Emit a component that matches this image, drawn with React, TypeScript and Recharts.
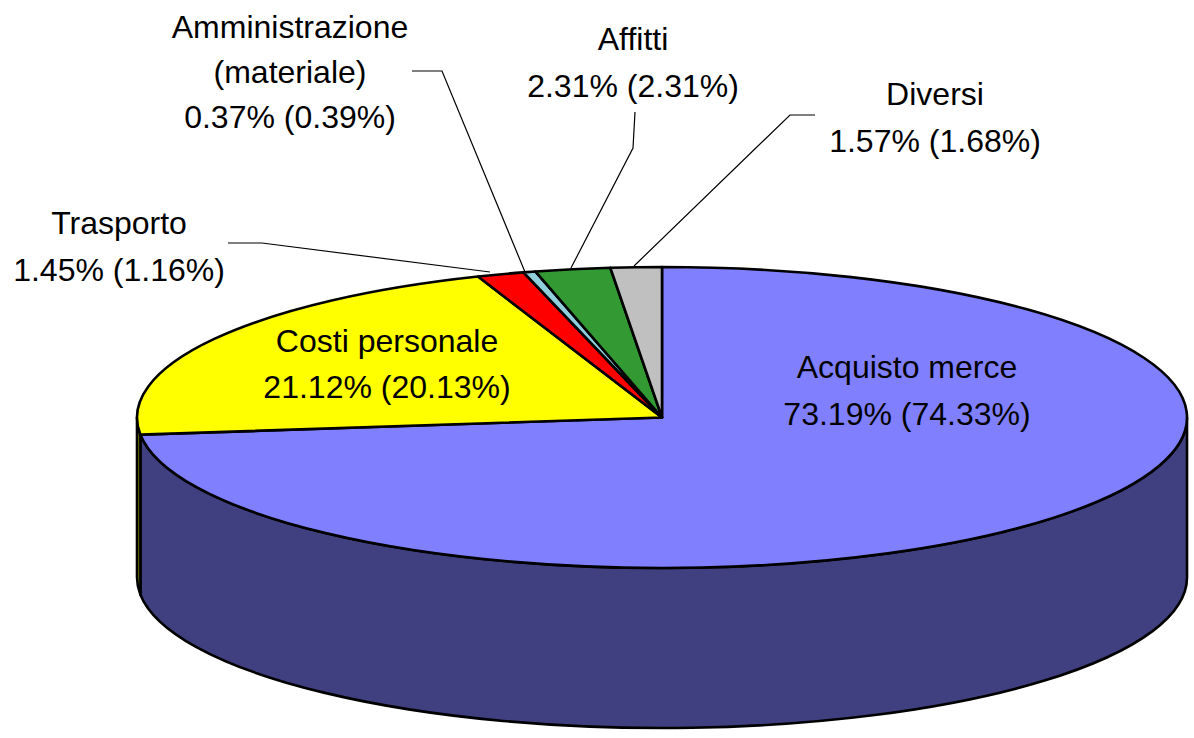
import React from "react";
import { PieChart, Pie } from "recharts";

const names = ["Acquisto merce", "Costi personale", "Trasporto", "Amministrazione (materiale)", "Affitti", "Diversi"];
const shares = [73.19, 21.12, 1.45, 0.37, 2.31, 1.57];
const previousShares = [74.33, 20.13, 1.16, 0.39, 2.31, 1.68];
const topColors = ["#8080FF", "#FFFF00", "#FF0000", "#8FD0DC", "#339933", "#C0C0C0"];
const sideColors = ["#404080", "#808000", "#800000", "#486870", "#1A4D1A", "#606060"];

const W = 1194;
const H = 738;
const CX = 662;
const CY = 417.5;
const RX = 525;
const RY = 150.5;
const DEPTH = 160;
const FONT = "'Liberation Sans', Arial, sans-serif";
const FONT_SIZE = 32;

type Lay = { x: number; y: number; dy: number; lines?: string[]; leader?: number[][] };
const layouts: Record<string, Lay> = {
  "Acquisto merce": { x: 907, y: 378, dy: 47 },
  "Costi personale": { x: 387, y: 352, dy: 46 },
  Trasporto: { x: 119, y: 234, dy: 47, leader: [[228, 243], [262, 243], [490, 272]] },
  "Amministrazione (materiale)": {
    x: 290,
    y: 38,
    dy: 45,
    lines: ["Amministrazione", "(materiale)"],
    leader: [[412, 71], [442, 71], [525, 272]],
  },
  Affitti: { x: 633, y: 50, dy: 47, leader: [[635, 112], [633, 148], [571, 268]] },
  Diversi: { x: 935, y: 105, dy: 47, leader: [[815, 115], [790, 115], [634, 266]] },
};

const topData = names.map((name, i) => ({ name, value: shares[i], prev: previousShares[i], fill: topColors[i] }));
const sideData = names.map((name, i) => ({ name, value: shares[i], fill: sideColors[i] }));

const pt = (angle: number, dy = 0) => {
  const t = ((90 - angle) * Math.PI) / 180;
  return [CX + RX * Math.sin(t), CY - RY * Math.cos(t) + dy];
};

const TopSector = (p: any) => {
  const a = pt(p.startAngle);
  const b = pt(p.endAngle);
  const large = Math.abs(p.startAngle - p.endAngle) > 180 ? 1 : 0;
  return (
    <path
      d={`M${CX},${CY} L${a[0]},${a[1]} A${RX},${RY} 0 ${large} 1 ${b[0]},${b[1]} Z`}
      fill={p.fill}
      stroke="#000"
      strokeWidth={2.6}
      strokeLinejoin="round"
    />
  );
};

const SideSector = (p: any) => {
  // clockwise-from-top parameter range, clipped to the front half of the ellipse
  const t1 = Math.max(90 - p.startAngle, 90);
  const t2 = Math.min(90 - p.endAngle, 270);
  if (t2 <= t1) return <g />;
  const a = pt(90 - t1);
  const b = pt(90 - t2);
  const c = pt(90 - t2, DEPTH);
  const d = pt(90 - t1, DEPTH);
  return (
    <path
      d={`M${a[0]},${a[1]} A${RX},${RY} 0 0 1 ${b[0]},${b[1]} L${c[0]},${c[1]} A${RX},${RY} 0 0 0 ${d[0]},${d[1]} Z`}
      fill={p.fill}
      stroke="#000"
      strokeWidth={2.6}
      strokeLinejoin="round"
    />
  );
};

const SliceLabel = (p: any) => {
  const name = names[p.index];
  const lay = layouts[name];
  const lines = [...(lay.lines ?? [name]), `${shares[p.index].toFixed(2)}% (${previousShares[p.index].toFixed(2)}%)`];
  return (
    <g>
      {lay.leader && (
        <polyline points={lay.leader.map((q) => q.join(",")).join(" ")} fill="none" stroke="#000" strokeWidth={1.2} />
      )}
      {lines.map((line, i) => (
        <text
          key={i}
          x={lay.x}
          y={lay.y + i * lay.dy}
          textAnchor="middle"
          fontFamily={FONT}
          fontSize={FONT_SIZE}
          fill="#000"
        >
          {line}
        </text>
      ))}
    </g>
  );
};

export default function App() {
  return (
    <div style={{ position: "absolute", left: 0, top: 0, width: W, height: H, background: "#fff" }}>
      <PieChart width={W} height={H} margin={{ top: 0, right: 0, bottom: 0, left: 0 }}>
        <Pie
          data={sideData}
          dataKey="value"
          cx={CX}
          cy={CY}
          outerRadius={RX}
          startAngle={90}
          endAngle={-270}
          shape={SideSector}
          isAnimationActive={false}
          rootTabIndex={-1}
        />
        <Pie
          data={topData}
          dataKey="value"
          cx={CX}
          cy={CY}
          outerRadius={RX}
          startAngle={90}
          endAngle={-270}
          shape={TopSector}
          label={SliceLabel}
          labelLine={false}
          isAnimationActive={false}
          rootTabIndex={-1}
        />
      </PieChart>
    </div>
  );
}
